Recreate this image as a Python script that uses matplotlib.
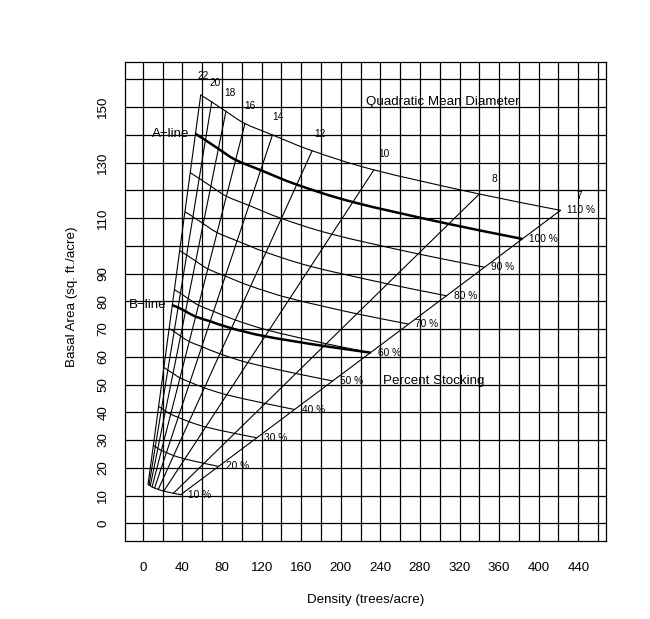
import matplotlib
matplotlib.use("Agg")
import matplotlib.pyplot as plt
from matplotlib.path import Path
from matplotlib.patches import PathPatch

plt.rcParams['font.family'] = ['Liberation Sans', 'DejaVu Sans']

# ---------------- data ----------------
qmd = [7, 8, 10, 12, 14, 16, 18, 20, 22]          # quadratic mean diameter (in.)
stocking = [10, 20, 30, 40, 50, 60, 70, 80, 90, 100, 110]  # percent stocking

# trees/acre at each stocking level (rows) for each QMD (columns)
tpa = [
    [38.4, 30.9, 21.2, 15.6, 11.9, 9.4, 7.6, 6.3, 5.3],
    [76.7, 61.8, 42.5, 31.1, 23.8, 18.8, 15.3, 12.7, 10.6],
    [115.1, 92.7, 63.7, 46.7, 35.7, 28.1, 22.9, 19.0, 16.0],
    [153.4, 123.6, 84.9, 62.2, 47.6, 37.5, 30.6, 25.3, 21.3],
    [191.8, 154.6, 106.2, 77.8, 59.6, 46.9, 38.2, 31.7, 26.6],
    [230.2, 185.5, 127.4, 93.3, 71.5, 56.3, 45.8, 38.0, 31.9],
    [268.5, 216.4, 148.6, 108.9, 83.4, 65.7, 53.5, 44.3, 37.2],
    [306.9, 247.3, 169.8, 124.4, 95.3, 75.0, 61.1, 50.6, 42.6],
    [345.2, 278.2, 191.1, 140.0, 107.2, 84.4, 68.8, 57.0, 47.9],
    [383.6, 309.1, 212.3, 155.5, 119.1, 93.8, 76.4, 63.3, 53.2],
    [422.0, 340.0, 233.5, 171.1, 131.0, 103.2, 84.0, 69.6, 58.5],
]

# basal area (sq. ft./acre) at each stocking level (rows) for each QMD (columns)
ba = [
    [10.3, 10.8, 11.6, 12.2, 12.7, 13.1, 13.5, 13.8, 14.0],
    [20.5, 21.6, 23.2, 24.4, 25.5, 26.2, 27.0, 27.6, 28.1],
    [30.8, 32.4, 34.7, 36.6, 38.2, 39.3, 40.5, 41.4, 42.1],
    [41.0, 43.2, 46.3, 48.8, 50.9, 52.4, 54.0, 55.2, 56.2],
    [51.3, 54.0, 57.9, 61.1, 63.7, 65.5, 67.5, 69.1, 70.2],
    [61.5, 64.7, 69.5, 73.3, 76.4, 78.6, 81.0, 82.9, 84.2],
    [71.8, 75.5, 81.1, 85.5, 89.1, 91.7, 94.5, 96.7, 98.3],
    [82.0, 86.3, 92.6, 97.7, 101.8, 104.8, 108.0, 110.5, 112.3],
    [92.3, 97.1, 104.2, 109.9, 114.6, 117.9, 121.5, 124.3, 126.4],
    [102.5, 107.9, 115.8, 122.1, 127.3, 131.0, 135.0, 138.1, 140.4],
    [112.8, 118.7, 127.4, 134.3, 140.0, 144.1, 148.5, 151.9, 154.4],
]

# B-line (minimum full stocking) for each QMD
b_line_tpa = [230.2, 183.0, 123.6, 89.6, 68.1, 53.4, 43.2, 35.6, 29.8]
b_line_ba = [61.5, 63.9, 67.4, 70.3, 72.8, 74.5, 76.4, 77.8, 78.6]

x_ticks = [0, 40, 80, 120, 160, 200, 240, 280, 320, 360, 400, 440]
y_ticks = [0, 10, 20, 30, 40, 50, 60, 70, 80, 90, 110, 130, 150]


def smooth_path(xs, ys, ts):
    """Smooth Bezier path passing through every (x, y) point (Hermite in t)."""
    n = len(xs)
    mx, my = [], []
    for i in range(n):
        a = max(i - 1, 0)
        b = min(i + 1, n - 1)
        dt = ts[b] - ts[a]
        mx.append((xs[b] - xs[a]) / dt)
        my.append((ys[b] - ys[a]) / dt)
    verts = [(xs[0], ys[0])]
    codes = [Path.MOVETO]
    for i in range(n - 1):
        h = (ts[i + 1] - ts[i]) / 3.0
        verts += [(xs[i] + h * mx[i], ys[i] + h * my[i]),
                  (xs[i + 1] - h * mx[i + 1], ys[i + 1] - h * my[i + 1]),
                  (xs[i + 1], ys[i + 1])]
        codes += [Path.CURVE4] * 3
    return Path(verts, codes)


# ---------------- figure ----------------
W, H = 650, 619
fig = plt.figure(figsize=(W / 100, H / 100), dpi=100)
ax = fig.add_axes([125 / W, 1 - 541 / H, (606 - 125) / W, (541 - 61.7) / H])
ax.set_xlim(-18, 468)
ax.set_ylim(-6.4, 166.4)

# background grid
for v in range(0, 461, 20):
    ax.axvline(v, color='black', lw=0.9, zorder=1)
for h in range(0, 161, 10):
    ax.axhline(h, color='black', lw=0.9, zorder=1)

for s in ax.spines.values():
    s.set_linewidth(0.9)
    s.set_color('black')

lw_thin = 0.8
lw_thick = 1.8
small = 7.3

# percent stocking curves
for i, p in enumerate(stocking):
    ax.add_patch(PathPatch(smooth_path(tpa[i], ba[i], qmd), fill=False,
                           edgecolor='black',
                           lw=(lw_thick if p == 100 else lw_thin), zorder=3))
    ax.annotate(f"{p} %", (tpa[i][0], ba[i][0]), xytext=(5, 0),
                textcoords='offset points', ha='left', va='center', fontsize=small)

# QMD lines
for j, d in enumerate(qmd):
    ax.plot([tpa[0][j], tpa[-1][j]], [ba[0][j], ba[-1][j]], color='black',
            lw=lw_thin, zorder=3)
    ax.text(tpa[-1][j] * 1.045, ba[-1][j] * 1.045, str(d), ha='center',
            va='center', fontsize=small)

# B-line
ax.add_patch(PathPatch(smooth_path(b_line_tpa, b_line_ba, qmd), fill=False,
                       edgecolor='black', lw=lw_thick, zorder=3))

# line labels
ax.annotate("A\u2212line", (tpa[9][-1], ba[9][-1]), xytext=(-4, 0),
            textcoords='offset points', ha='right', va='center', fontsize=9.6)
ax.annotate("B\u2212line", (b_line_tpa[-1], b_line_ba[-1]), xytext=(-4, 0),
            textcoords='offset points', ha='right', va='center', fontsize=9.6)

ax.text(303.5, 152, "Quadratic Mean Diameter", ha='center', va='center', fontsize=9.6)
ax.text(293.7, 51.4, "Percent Stocking", ha='center', va='center', fontsize=9.6)

# axes
ax.set_xticks(x_ticks)
ax.set_xticklabels([str(v) for v in x_ticks])
ax.set_yticks(y_ticks)
ax.set_yticklabels([str(v) for v in y_ticks], rotation=90, va='center')
ax.tick_params(axis='x', length=0, pad=15.0, labelsize=9.6)
ax.tick_params(axis='y', length=0, pad=11.3, labelsize=9.6)

fig.text(365.5 / W, 1 - 600 / H, "Density (trees/acre)", ha='center', va='center',
         fontsize=9.6)
fig.text(72 / W, 1 - 297 / H, "Basal Area (sq. ft./acre)", ha='center', va='center',
         rotation=90, fontsize=9.6)

fig.savefig("out.png", dpi=100)
